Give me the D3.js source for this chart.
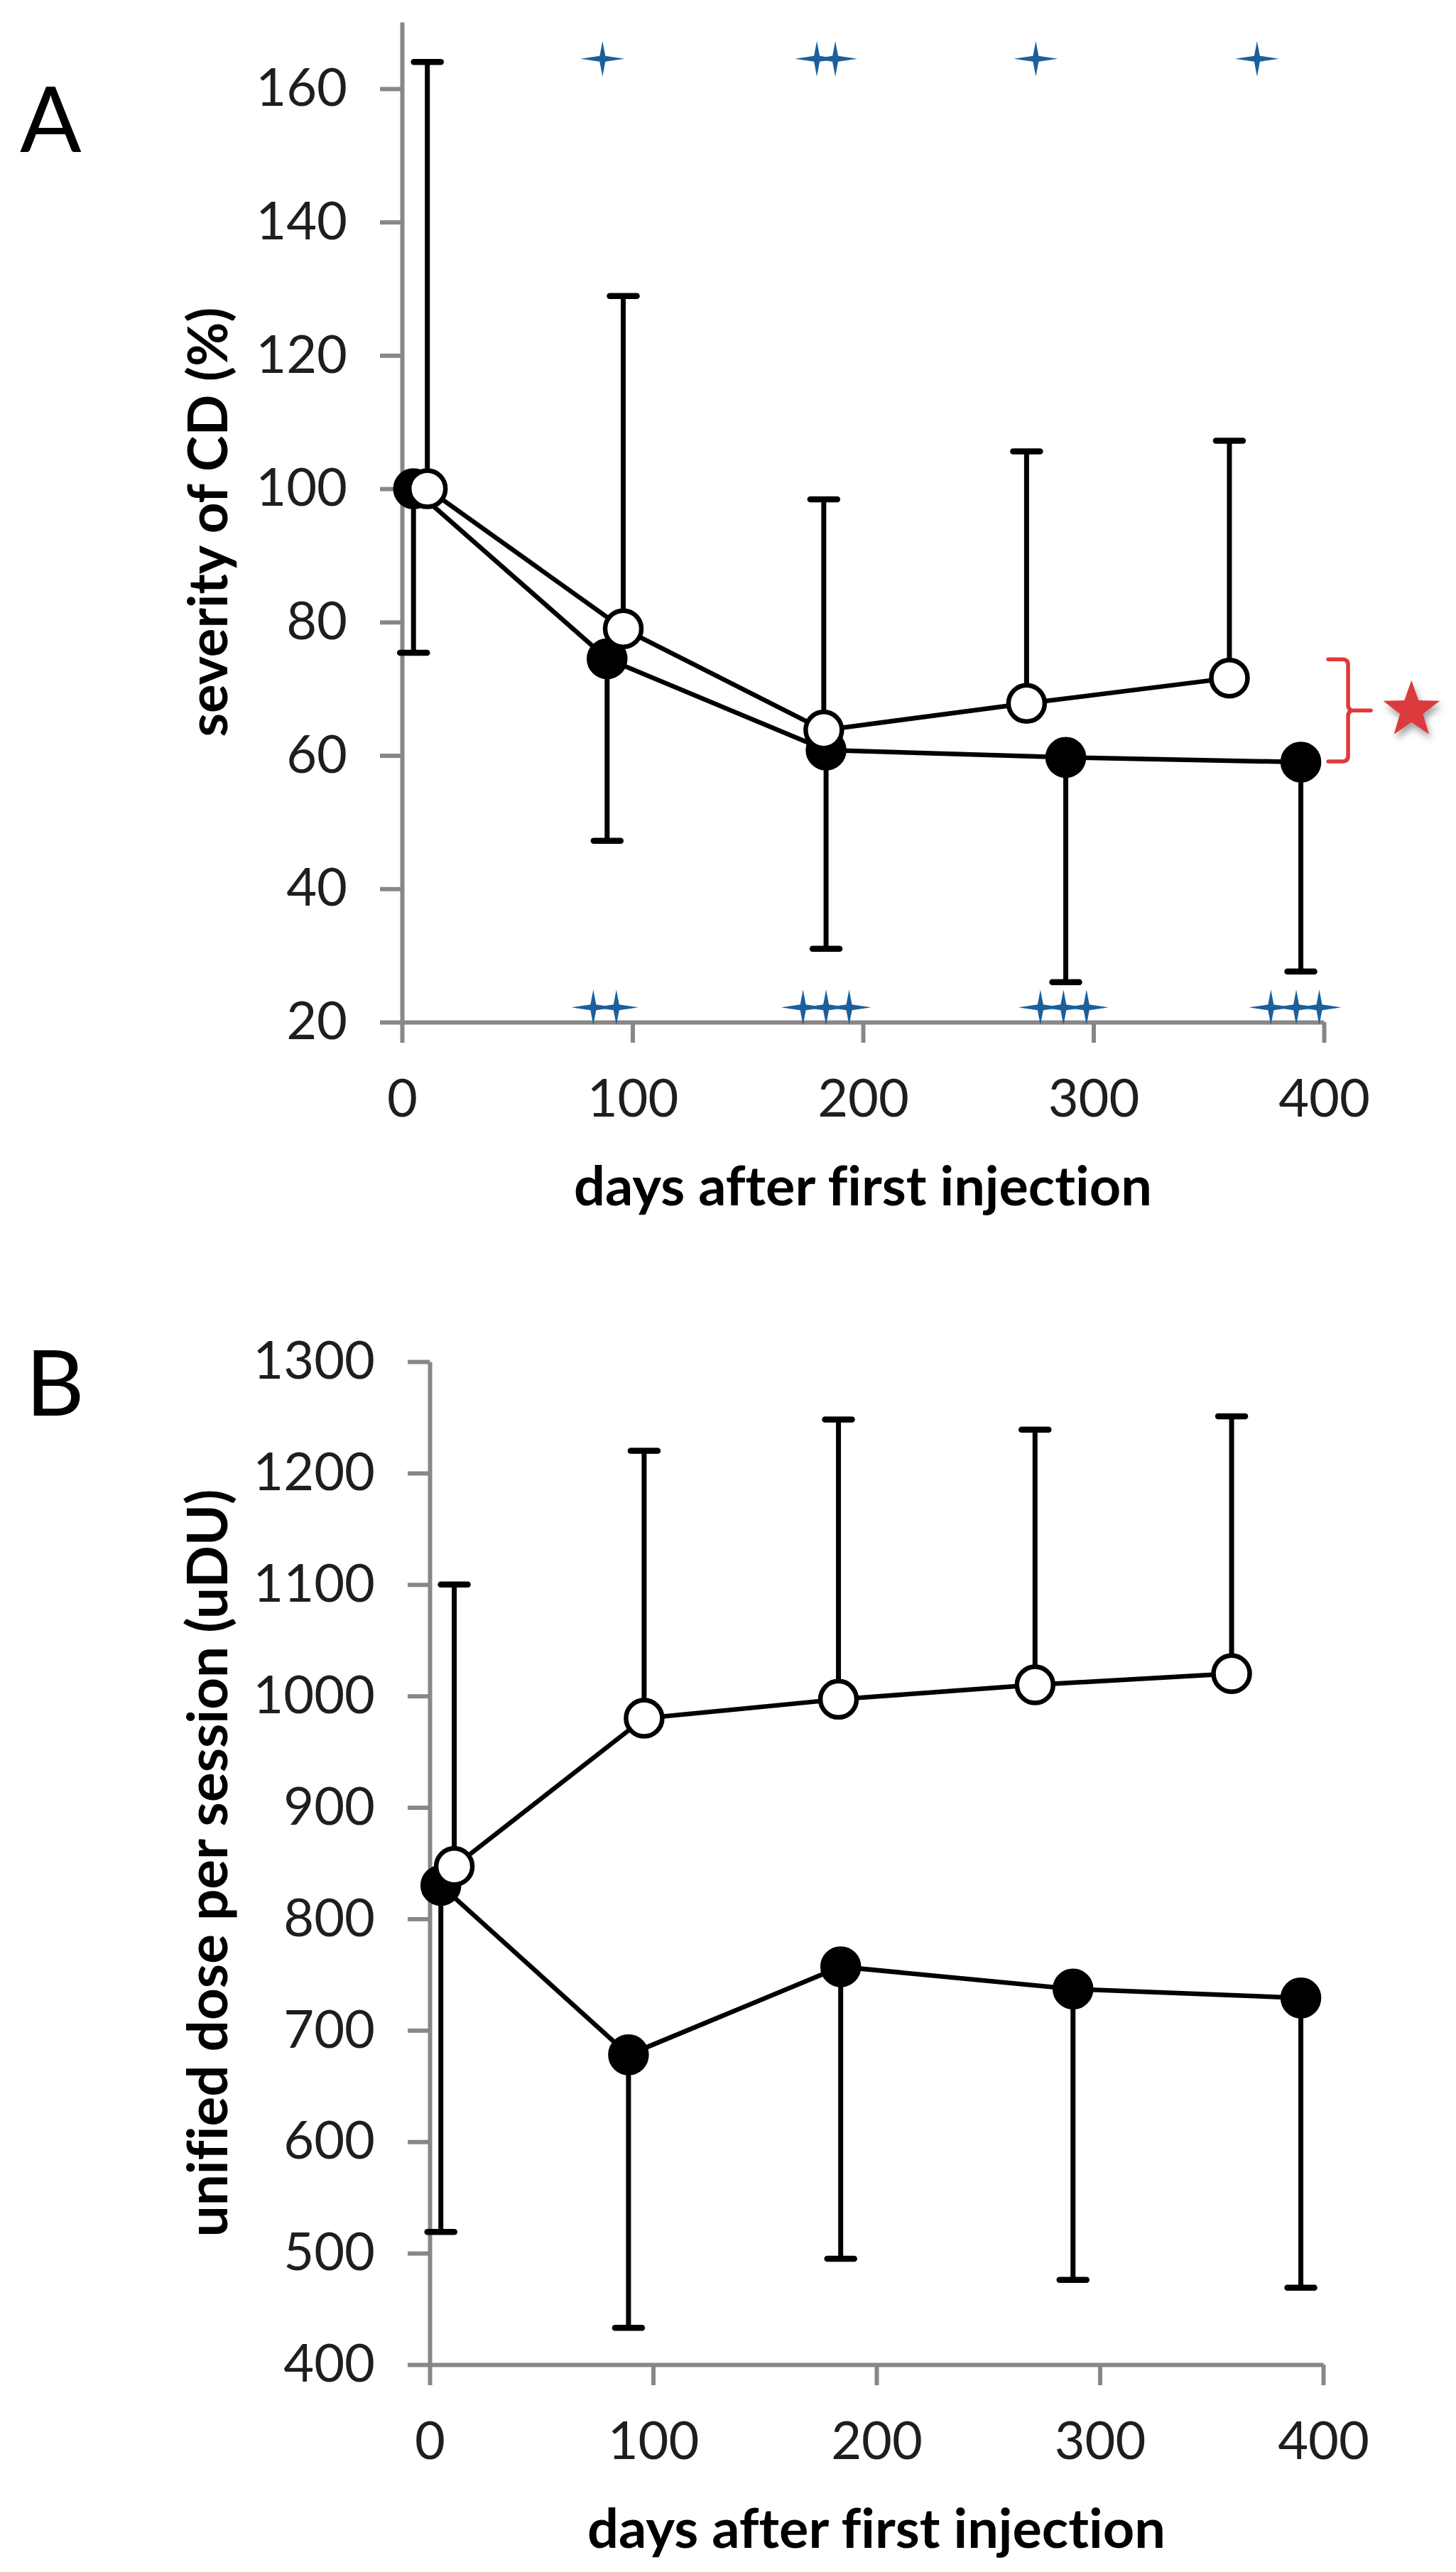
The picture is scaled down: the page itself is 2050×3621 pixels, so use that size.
<!doctype html>
<html lang="en">
<head>
  <meta charset="utf-8">
  <style>
    html, body { margin: 0; padding: 0; background: #fff; }
    svg text { font-family: Lato, "Open Sans", sans-serif; font-variant-ligatures: none; }
  </style>
</head>
<body>
  <script src="https://d3js.org/d3.v7.min.js"></script>
  <div id="chart"></div>
  <script>
  // days of the visits (filled = one group, open = other group)
  var daysFilled = [5, 89, 184, 288, 390];
  var daysOpen = [11, 96, 183, 271, 359];

  // panel A: severity of CD (%)
  var severityFilled = [100, 74.5, 60.8, 59.7, 59];
  var severityFilledLow = [75.4, 47.2, 31, 26, 27.6];
  var severityOpen = [100, 79, 63.8, 67.8, 71.6];
  var severityOpenHigh = [164, 128.9, 98.4, 105.6, 107.2];

  // significance marks in panel A
  var plusTopDays = [87, 180, 188, 275, 371];
  var plusBottomDays = [83, 93, 174, 184, 194, 277, 287, 297, 377, 388, 398];
  var plusTopLevel = 164.5, plusBottomLevel = 22.2;
  var bracketDay = 410.5, bracketRange = [59.1, 74.4];
  var starDay = 438, starLevel = 66.8;

  // panel B: unified dose per session (uDU)
  var doseFilled = [830, 678, 757, 737, 729];
  var doseFilledLow = [519, 433, 495, 476, 469];
  var doseOpen = [847, 980, 997, 1010, 1020];
  var doseOpenHigh = [1100, 1220, 1248, 1239, 1251];

  var xTicks = [0, 100, 200, 300, 400];
  var yTicksA = [20, 40, 60, 80, 100, 120, 140, 160];
  var yTicksB = [400, 500, 600, 700, 800, 900, 1000, 1100, 1200, 1300];

  var width = 2050, height = 3621;
  var axisGrey = "#878787";

  var svg = d3.select("#chart")
      .append("svg")
      .attr("width", width)
      .attr("height", height);

  var defs = svg.append("defs");
  defs.append("filter")
      .attr("id", "shadow")
      .attr("x", "-50%").attr("y", "-50%")
      .attr("width", "200%").attr("height", "200%")
    .append("feDropShadow")
      .attr("dx", 3).attr("dy", 7)
      .attr("stdDeviation", 5)
      .attr("flood-color", "#555")
      .attr("flood-opacity", 0.55);

  // four pointed thin star used for the blue marks
  var plusSymbol = {
    draw: function(ctx) {
      var h = 25, a = 31, w = 4;
      ctx.moveTo(0, -h);
      ctx.lineTo(w, -w);
      ctx.lineTo(a, 0);
      ctx.lineTo(w, w);
      ctx.lineTo(0, h);
      ctx.lineTo(-w, w);
      ctx.lineTo(-a, 0);
      ctx.lineTo(-w, -w);
      ctx.closePath();
    }
  };

  // shrink/grow a bold title until it is as long as in the figure
  function fitText(sel, target) {
    var size = 76;
    sel.style("font-size", size + "px");
    var len = sel.node().getComputedTextLength();
    if (len > 0) sel.style("font-size", (size * target / len) + "px");
  }

  function drawPanel(cfg) {
    var g = svg.append("g");
    var x = d3.scaleLinear().domain([0, 400]).range(cfg.xRange);
    var y = d3.scaleLinear().domain(cfg.yDomain).range(cfg.yRange);

    // axes
    var xAxis = g.append("g")
        .attr("transform", "translate(0," + cfg.yRange[0] + ")")
        .call(d3.axisBottom(x).tickValues(xTicks).tickFormat(d3.format("d"))
          .tickSize(29).tickSizeOuter(0).tickPadding(51));
    var yAxis = g.append("g")
        .attr("transform", "translate(" + cfg.xRange[0] + ",0)")
        .call(d3.axisLeft(y).tickValues(cfg.yTicks).tickFormat(d3.format("d"))
          .tickSize(31).tickSizeOuter(0).tickPadding(46));
    [xAxis, yAxis].forEach(function(ax) {
      ax.select(".domain").attr("stroke", axisGrey).attr("stroke-width", 6);
      ax.selectAll(".tick line").attr("stroke", axisGrey).attr("stroke-width", 6);
      ax.selectAll(".tick text")
        .attr("fill", "#1e1e1e")
        .style("font-size", "74px")
        .style("font-family", "Lato, sans-serif");
    });

    // axis titles
    var xt = g.append("text")
        .attr("x", (cfg.xRange[0] + cfg.xRange[1]) / 2)
        .attr("y", cfg.yRange[0] + 258)
        .attr("text-anchor", "middle")
        .style("font-weight", "bold")
        .text("days after first injection");
    fitText(xt, 814);
    var yt = g.append("text")
        .attr("transform", "translate(320," + (cfg.yRange[0] + cfg.yRange[1]) / 2 + ") rotate(-90)")
        .attr("text-anchor", "middle")
        .style("font-weight", "bold")
        .text(cfg.yTitle);
    fitText(yt, cfg.yTitleLen);

    // panel letter
    g.append("text")
        .attr("x", cfg.letterPos[0])
        .attr("y", cfg.letterPos[1])
        .style("font-size", "128px")
        .text(cfg.letter);

    var line = d3.line()
        .x(function(d) { return x(d[0]); })
        .y(function(d) { return y(d[1]); });

    function series(days, vals, ends, fill) {
      var s = g.append("g");
      var pts = days.map(function(d, i) { return [d, vals[i], ends[i]]; });
      s.selectAll("line.bar")
        .data(pts).enter().append("line")
          .attr("class", "bar")
          .attr("x1", function(d) { return x(d[0]); })
          .attr("x2", function(d) { return x(d[0]); })
          .attr("y1", function(d) { return y(d[1]); })
          .attr("y2", function(d) { return y(d[2]); })
          .attr("stroke", "#000")
          .attr("stroke-width", 7);
      s.selectAll("line.cap")
        .data(pts).enter().append("line")
          .attr("class", "cap")
          .attr("x1", function(d) { return x(d[0]) - 19; })
          .attr("x2", function(d) { return x(d[0]) + 19; })
          .attr("y1", function(d) { return y(d[2]); })
          .attr("y2", function(d) { return y(d[2]); })
          .attr("stroke", "#000")
          .attr("stroke-width", 8.5)
          .attr("stroke-linecap", "round");
      s.append("path")
          .datum(pts)
          .attr("d", line)
          .attr("fill", "none")
          .attr("stroke", "#000")
          .attr("stroke-width", 6.5);
      s.selectAll("circle")
        .data(pts).enter().append("circle")
          .attr("cx", function(d) { return x(d[0]); })
          .attr("cy", function(d) { return y(d[1]); })
          .attr("r", 25.5)
          .attr("fill", fill)
          .attr("stroke", "#000")
          .attr("stroke-width", 6.5);
    }

    series(daysFilled, cfg.filled, cfg.filledLow, "#000");
    series(daysOpen, cfg.open, cfg.openHigh, "#fff");

    return { g: g, x: x, y: y };
  }

  var A = drawPanel({
    xRange: [566, 1864], yDomain: [20, 170], yRange: [1439, 31],
    yTicks: yTicksA, yTitle: "severity of CD (%)", yTitleLen: 605,
    letter: "A", letterPos: [28, 214],
    filled: severityFilled, filledLow: severityFilledLow,
    open: severityOpen, openHigh: severityOpenHigh
  });

  var B = drawPanel({
    xRange: [605, 1863], yDomain: [400, 1300], yRange: [3329, 1917],
    yTicks: yTicksB, yTitle: "unified dose per session (uDU)", yTitleLen: 1053,
    letter: "B", letterPos: [36, 1993],
    filled: doseFilled, filledLow: doseFilledLow,
    open: doseOpen, openHigh: doseOpenHigh
  });

  // blue marks in panel A
  var plusPts = plusTopDays.map(function(d) { return [d, plusTopLevel]; })
      .concat(plusBottomDays.map(function(d) { return [d, plusBottomLevel]; }));
  A.g.selectAll("path.plus")
    .data(plusPts).enter().append("path")
      .attr("class", "plus")
      .attr("transform", function(d) { return "translate(" + A.x(d[0]) + "," + A.y(d[1]) + ")"; })
      .attr("d", d3.symbol().type(plusSymbol))
      .attr("fill", "#1c5f9c");

  // red bracket and star
  var bx = A.x(bracketDay), by0 = A.y(bracketRange[1]), by1 = A.y(bracketRange[0]);
  var bm = (by0 + by1) / 2, rr = 8;
  A.g.append("path")
      .attr("d", "M" + (bx - 28) + "," + by0 + " L" + (bx - rr) + "," + by0 +
                 " Q" + bx + "," + by0 + " " + bx + "," + (by0 + rr) +
                 " L" + bx + "," + (bm - rr) +
                 " Q" + bx + "," + bm + " " + (bx + rr) + "," + bm +
                 " L" + (bx + 32) + "," + bm +
                 " M" + (bx + rr) + "," + bm +
                 " Q" + bx + "," + bm + " " + bx + "," + (bm + rr) +
                 " L" + bx + "," + (by1 - rr) +
                 " Q" + bx + "," + by1 + " " + (bx - rr) + "," + by1 +
                 " L" + (bx - 28) + "," + by1)
      .attr("fill", "none")
      .attr("stroke", "#e0393b")
      .attr("stroke-width", 5.5)
      .attr("stroke-linecap", "round");

  var starPts = d3.range(10).map(function(i) {
    var r = i % 2 ? 17 : 42;
    var a = i * Math.PI / 5;
    return [A.x(starDay) + r * Math.sin(a), A.y(starLevel) - r * Math.cos(a)];
  });
  A.g.append("polygon")
      .attr("points", starPts.map(function(p) { return p.join(","); }).join(" "))
      .attr("fill", "#dc3b3d")
      .attr("filter", "url(#shadow)");
  </script>
</body>
</html>
